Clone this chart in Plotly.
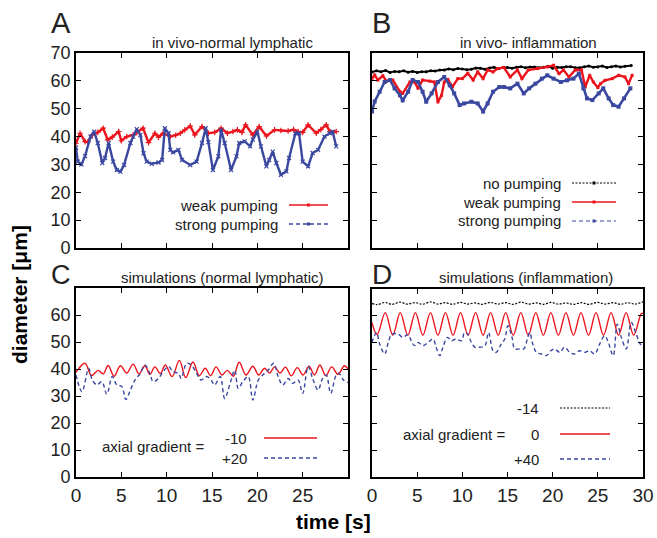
import plotly.graph_objects as go

# ---------------- data ----------------
# Panel A: in vivo, normal lymphatic
A_weak_t = [0, 0.45, 1.0, 1.3, 1.8, 2.4, 3.0, 3.5, 4.0, 4.7, 5.0, 5.6, 6.3, 6.7, 7.4, 8.0, 8.7, 9.1, 9.6,
            10.4, 11.0, 11.5, 12.0, 12.6, 13.1, 13.9, 14.6, 15.3, 16.0, 16.7, 17.3, 17.8, 18.3, 18.7, 19.5,
            20.2, 21.0, 21.9, 22.6, 23.4, 24.0, 24.5, 25.0, 25.6, 26.5, 27.0, 27.6, 28.0, 28.7]
A_weak_d = [37.6, 41.2, 38.2, 38.0, 40.6, 41.5, 43.0, 38.8, 39.8, 41.8, 38.5, 40.0, 40.6, 41.4, 43.0, 37.8,
            41.2, 39.8, 41.2, 40.0, 40.5, 41.2, 42.4, 43.8, 40.6, 43.6, 41.2, 41.5, 43.0, 41.2, 41.8, 42.4,
            41.5, 44.2, 40.6, 43.6, 40.2, 42.4, 42.2, 42.0, 42.5, 41.8, 41.5, 44.2, 41.2, 42.5, 44.2, 41.8, 41.8]
A_strong_t = [0, 0.2, 0.6, 1.0, 1.6, 2.0, 2.4, 2.9, 3.2, 3.6, 4.1, 4.5, 4.9, 5.3, 6.0, 6.3, 6.7, 7.1, 7.45,
              7.8, 8.35, 9.1, 9.5, 9.8, 10.2, 10.4, 10.7, 11.3, 11.7, 12.6, 13.3, 13.9, 14.3, 14.6, 15.1,
              15.7, 16.0, 16.4, 17.1, 17.7, 18.0, 18.6, 19.2, 19.5, 20.0, 20.4, 21.0, 21.3, 21.7, 22.1,
              22.6, 23.2, 23.5, 24.2, 24.6, 25.0, 25.6, 26.1, 26.7, 27.4, 28.0, 28.3, 28.7]
A_strong_d = [36.0, 31.0, 30.0, 33.0, 40.0, 41.8, 37.7, 30.5, 32.3, 37.7, 31.0, 28.0, 27.4, 29.8, 37.7,
              40.0, 42.7, 40.6, 34.0, 31.0, 30.2, 30.7, 31.6, 43.0, 41.2, 35.2, 34.3, 35.2, 31.6, 29.8,
              31.0, 37.7, 43.0, 38.0, 28.0, 32.9, 42.4, 37.7, 28.0, 32.9, 37.7, 38.3, 36.5, 38.9, 41.8,
              36.5, 29.3, 31.6, 34.6, 30.5, 26.3, 27.5, 32.3, 41.2, 41.2, 31.0, 29.3, 34.1, 35.2, 40.0,
              41.2, 41.8, 36.5]

# Panel B: in vivo, inflammation
B_none_t = [0, 0.5, 1, 1.5, 2, 2.5, 3, 3.5, 4, 4.5, 5, 5.5, 6, 6.5, 7, 7.5, 8, 8.5, 9, 9.5, 10, 10.5, 11,
            11.5, 12, 12.5, 13, 13.5, 14, 14.5, 15, 15.5, 16, 16.5, 17, 17.5, 18, 18.5, 19, 19.5, 20,
            20.5, 21, 21.5, 22, 22.5, 23, 23.5, 24, 24.5, 25, 25.5, 26, 26.5, 27, 27.5, 28, 28.7]
B_none_d = [63.2, 63.6, 63.3, 63.7, 63.0, 63.4, 63.3, 63.6, 63.1, 63.4, 63.0, 63.3, 63.3, 63.6, 63.5,
            63.9, 63.9, 64.3, 64.0, 64.4, 64.3, 64.0, 64.2, 64.6, 64.5, 64.2, 64.6, 64.9, 64.4, 64.8,
            64.8, 64.5, 64.9, 65.1, 64.7, 65.0, 65.0, 64.7, 64.9, 65.2, 64.5, 64.9, 64.8, 65.1, 65.1,
            64.7, 64.7, 65.1, 65.3, 64.9, 65.0, 65.3, 64.8, 65.1, 65.3, 65.0, 65.2, 65.5]
B_weak_t = [0, 0.3, 0.65, 1.2, 1.6, 2.3, 3.1, 3.4, 4.2, 4.7, 5.1, 5.6, 6.4, 6.9, 7.3, 7.7, 8.0, 8.4, 8.9,
            9.5, 10.0, 10.6, 11.2, 11.7, 12.3, 12.8, 13.4, 13.9, 14.6, 15.3, 16.1, 16.6, 17.3, 18.3,
            19.4, 20.1, 20.7, 21.2, 21.8, 22.5, 23.2, 23.6, 24.1, 24.5, 25.0, 25.3, 25.8, 26.6, 27.3,
            28.0, 28.4, 28.8]
B_weak_d = [60.9, 62.1, 60.3, 61.8, 59.9, 60.3, 56.1, 55.5, 59.6, 59.6, 57.3, 60.3, 59.9, 59.6, 52.4,
            54.8, 59.6, 60.5, 57.8, 60.8, 60.8, 62.7, 60.3, 63.2, 60.8, 63.9, 63.2, 64.4, 64.8, 61.4,
            63.9, 60.8, 63.9, 64.4, 65.0, 65.6, 62.6, 63.9, 61.4, 63.9, 63.9, 57.8, 62.0, 59.6, 57.6,
            59.0, 60.2, 60.8, 62.0, 61.4, 59.0, 62.0]
B_strong_t = [0, 0.3, 0.85, 1.4, 2.0, 2.5, 3.1, 3.4, 4.0, 4.5, 5.1, 5.6, 6.0, 6.6, 7.3, 8.0, 8.6, 9.1,
              9.7, 10.2, 11.0, 11.7, 12.3, 12.8, 13.4, 14.1, 14.6, 15.3, 16.1, 16.8, 17.4, 18.1, 18.8,
              19.4, 20.1, 20.9, 21.6, 22.3, 22.9, 23.4, 23.8, 24.4, 25.1, 25.6, 26.2, 26.7, 27.3, 27.9,
              28.6]
B_strong_d = [49.0, 52.6, 56.1, 59.6, 60.3, 57.3, 54.8, 53.0, 56.1, 60.3, 59.6, 56.1, 52.5, 55.5, 59.6,
              61.4, 58.4, 55.5, 51.3, 51.9, 52.5, 51.9, 49.0, 51.9, 56.1, 57.8, 57.8, 57.3, 59.0, 55.5,
              57.3, 59.0, 60.8, 62.0, 60.8, 59.6, 60.2, 60.8, 62.6, 57.3, 53.7, 53.1, 55.5, 57.3, 53.7,
              51.3, 50.7, 53.7, 57.3]

# Panel C: simulations, normal lymphatic
C_m10_t = [0, 1.0, 1.7, 2.45, 3.0, 3.55, 4.2, 4.9, 5.6, 6.3, 6.95, 7.6, 8.15, 8.7, 9.3, 9.85, 10.6, 11.4,
           12.1, 12.9, 13.6, 14.25, 14.85, 15.45, 16.1, 16.7, 17.35, 18.0, 18.75, 19.5, 20.15, 20.8,
           21.35, 21.9, 22.5, 23.1, 23.75, 24.4, 25.05, 25.7, 26.3, 26.9, 27.55, 28.2, 28.9, 29.6, 30.0]
C_m10_d = [38.8, 42.1, 37.6, 39.5, 38.2, 41.3, 37.3, 41.2, 38.5, 41.8, 38.2, 41.2, 38.0, 40.8, 38.3,
           41.5, 37.2, 43.2, 36.8, 42.6, 37.5, 40.3, 37.5, 40.8, 37.8, 39.5, 37.3, 42.5, 37.8, 41.0,
           37.8, 40.3, 38.5, 40.8, 38.5, 40.7, 37.5, 40.5, 37.8, 41.0, 37.8, 41.5, 37.5, 40.8, 38.0,
           41.2, 40.0]
C_p20_t = [0, 0.66, 1.4, 1.8, 2.3, 2.85, 3.4, 4.0, 4.5, 5.05, 5.5, 6.0, 6.5, 7.1, 7.6, 8.2, 8.5, 9.1,
           9.6, 10.2, 10.7, 11.3, 11.6, 12.2, 12.7, 13.3, 13.8, 14.4, 14.9, 15.3, 15.9, 16.4, 17.0,
           17.5, 17.9, 18.4, 19.0, 19.5, 20.1, 20.6, 21.2, 21.8, 22.3, 22.8, 23.4, 23.9, 24.5, 25.0,
           25.6, 26.1, 26.7, 27.2, 27.6, 28.1, 28.7, 29.0, 29.5, 30.0]
C_p20_d = [37.8, 31.6, 40.2, 35.9, 34.1, 35.3, 30.7, 37.2, 34.1, 33.5, 28.7, 32.2, 35.9, 38.4, 41.5,
           37.8, 35.3, 36.5, 39.0, 40.9, 39.0, 38.4, 36.5, 42.1, 41.5, 38.4, 35.9, 37.2, 35.9, 34.1,
           37.2, 29.1, 34.7, 39.6, 32.8, 35.3, 37.2, 28.5, 35.9, 37.8, 39.6, 42.1, 37.2, 34.1, 36.5,
           34.7, 35.9, 31.0, 40.9, 36.5, 32.2, 36.5, 37.8, 31.0, 37.8, 38.4, 35.9, 35.0]

# Panel D: simulations, inflammation
D_m14_t = [0, 0.6, 1.4, 2.2, 3.1, 3.9, 4.8, 5.6, 6.5, 7.3, 8.1, 8.9, 9.8, 10.6, 11.4, 12.2, 13.1, 13.9,
           14.8, 15.6, 16.5, 17.3, 18.2, 19.0, 19.8, 20.6, 21.5, 22.3, 23.2, 24.0, 25.0, 25.8, 26.7,
           27.5, 28.3, 29.1, 30.0]
D_m14_d = [64.6, 64.2, 65.0, 64.3, 65.1, 64.4, 64.9, 64.3, 65.2, 64.4, 64.9, 64.3, 65.0, 64.4, 64.8,
           64.3, 65.0, 64.4, 64.9, 64.3, 65.1, 64.4, 64.8, 64.3, 65.0, 64.4, 64.8, 64.3, 64.9, 64.3,
           65.0, 64.4, 64.9, 64.3, 64.9, 64.4, 65.2]
D_0_t = [0, 0.57, 1.47, 2.3, 3.13, 3.97, 4.8, 5.63, 6.47, 7.3, 8.13, 8.97, 9.8, 10.63, 11.47, 12.3,
         13.13, 13.97, 14.8, 15.63, 16.47, 17.3, 18.13, 18.97, 19.8, 20.63, 21.47, 22.3, 23.13, 23.97,
         24.8, 25.63, 26.47, 27.3, 28.13, 28.97, 29.8, 30.0]
D_0_d = [57.5, 53.0, 61.2, 52.8, 61.2, 52.8, 61.2, 52.8, 61.2, 52.8, 61.2, 52.8, 61.2, 52.8, 61.2, 52.8,
         61.2, 52.8, 61.2, 52.8, 61.2, 52.8, 61.2, 52.8, 61.2, 52.8, 61.2, 52.8, 61.2, 52.8, 61.2,
         52.8, 61.2, 52.8, 61.2, 52.8, 60.8, 61.0]
D_p40_t = [0, 0.5, 0.85, 1.4, 1.85, 2.2, 2.9, 3.4, 4.0, 4.35, 4.7, 5.1, 5.65, 6.2, 6.75, 7.1, 7.5, 7.85,
           8.35, 8.8, 9.3, 9.9, 10.25, 10.6, 11.0, 11.4, 11.9, 12.5, 12.9, 13.4, 13.75, 14.3, 14.7,
           15.05, 15.5, 15.8, 16.35, 16.8, 17.2, 17.45, 17.8, 18.2, 18.75, 19.3, 19.8, 20.2, 20.8,
           21.3, 21.9, 22.4, 23.0, 23.5, 24.1, 24.65, 25.2, 25.75, 26.1, 26.7, 27.15, 27.6, 28.15,
           28.7, 29.25, 29.7, 30.0]
D_p40_d = [50.1, 53.8, 49.5, 45.8, 50.7, 53.2, 53.2, 52.0, 53.0, 50.7, 48.9, 50.1, 48.9, 50.1, 51.4,
           48.3, 45.2, 48.3, 52.0, 50.7, 51.4, 50.7, 53.8, 53.2, 50.1, 48.3, 48.3, 48.9, 53.8, 47.0,
           46.4, 49.5, 51.4, 56.3, 52.0, 47.7, 47.7, 47.7, 51.4, 53.8, 49.5, 46.4, 45.8, 45.2, 47.0,
           47.7, 46.4, 48.3, 46.4, 45.8, 47.0, 46.4, 47.0, 45.8, 49.5, 52.6, 50.7, 45.2, 56.9, 52.0,
           47.7, 57.5, 53.2, 49.5, 49.0]

x_ticks = [0, 5, 10, 15, 20, 25, 30]
y_ticks = [0, 10, 20, 30, 40, 50, 60, 70]

# ---------------- styling ----------------
W, H = 657, 538
RED = "rgb(235,20,28)"
BLUE = "rgb(58,72,160)"
BLACK = "black"
FONT = "Liberation Sans"


def px(x):
    return x / W


def py(y):
    return 1 - y / H


fig = go.Figure()

panels = {
    "A": ("x", "y", (76, 348), (53, 248)),
    "B": ("x2", "y2", (372, 643), (53, 248)),
    "C": ("x3", "y3", (76, 348), (288, 477)),
    "D": ("x4", "y4", (372, 643), (289, 477)),
}

# in vivo traces
fig.add_trace(go.Scatter(x=A_weak_t, y=A_weak_d, xaxis="x", yaxis="y", mode="lines+markers",
                         line=dict(color=RED, width=2.4),
                         marker=dict(symbol="cross-thin", size=4, line=dict(color=RED, width=1.2))))
fig.add_trace(go.Scatter(x=A_strong_t, y=A_strong_d, xaxis="x", yaxis="y", mode="lines+markers",
                         line=dict(color=BLUE, width=2.4),
                         marker=dict(symbol="x-thin", size=4, line=dict(color=BLUE, width=1.2))))
fig.add_trace(go.Scatter(x=B_none_t, y=B_none_d, xaxis="x2", yaxis="y2", mode="lines+markers",
                         line=dict(color=BLACK, width=2.0),
                         marker=dict(symbol="circle", size=3, color=BLACK)))
fig.add_trace(go.Scatter(x=B_weak_t, y=B_weak_d, xaxis="x2", yaxis="y2", mode="lines+markers",
                         line=dict(color=RED, width=2.4),
                         marker=dict(symbol="square", size=3, color=RED)))
fig.add_trace(go.Scatter(x=B_strong_t, y=B_strong_d, xaxis="x2", yaxis="y2", mode="lines+markers",
                         line=dict(color=BLUE, width=2.6),
                         marker=dict(symbol="square", size=4, color=BLUE)))

# simulation traces
fig.add_trace(go.Scatter(x=C_m10_t, y=C_m10_d, xaxis="x3", yaxis="y3", mode="lines",
                         line=dict(color=RED, width=1.4, shape="spline", smoothing=1.0)))
fig.add_trace(go.Scatter(x=C_p20_t, y=C_p20_d, xaxis="x3", yaxis="y3", mode="lines",
                         line=dict(color=BLUE, width=1.4, dash="4px,3px", shape="spline", smoothing=1.0)))
fig.add_trace(go.Scatter(x=D_m14_t, y=D_m14_d, xaxis="x4", yaxis="y4", mode="lines",
                         line=dict(color=BLACK, width=1.2, dash="2px,1.5px", shape="spline", smoothing=1.0)))
fig.add_trace(go.Scatter(x=D_0_t, y=D_0_d, xaxis="x4", yaxis="y4", mode="lines",
                         line=dict(color=RED, width=1.4, shape="spline", smoothing=1.0)))
fig.add_trace(go.Scatter(x=D_p40_t, y=D_p40_d, xaxis="x4", yaxis="y4", mode="lines",
                         line=dict(color=BLUE, width=1.4, dash="4px,3px", shape="spline", smoothing=1.0)))

layout = dict(
    width=W, height=H, showlegend=False,
    margin=dict(l=0, r=0, t=0, b=0, autoexpand=False),
    paper_bgcolor="white", plot_bgcolor="white",
    font=dict(family=FONT, color="#222"),
)

for name, (xa, ya, (x0, x1), (y0, y1)) in panels.items():
    xkey = "xaxis" + xa[1:]
    ykey = "yaxis" + ya[1:]
    show_xlab = name in ("C", "D")
    show_ylab = name in ("A", "C")
    if name == "C":
        xtext = [str(v) if v != 30 else "" for v in x_ticks]
        ytext = [str(v) if v != 70 else "" for v in y_ticks]
    else:
        xtext = [str(v) for v in x_ticks]
        ytext = [str(v) for v in y_ticks]
    common = dict(showgrid=False, zeroline=False, showline=True, linecolor="black", linewidth=1.6,
                  mirror="ticks", ticks="inside", ticklen=5, tickwidth=1, tickcolor="black",
                  automargin=False)
    layout[xkey] = dict(domain=[px(x0), px(x1)], range=[0, 30], anchor=ya,
                        tickvals=x_ticks, ticktext=xtext, showticklabels=show_xlab,
                        tickfont=dict(size=19, family=FONT, color="#222"), **common)
    layout[ykey] = dict(domain=[py(y1), py(y0)], range=[0, 70], anchor=xa,
                        tickvals=y_ticks, ticktext=ytext, showticklabels=show_ylab,
                        tickfont=dict(size=18, family=FONT, color="#222"), **common)

fig.update_layout(**layout)

ann = []
shapes = []


def text(x, y, s, size=13, xanchor="center", bold=False, angle=0, color="#222"):
    ann.append(dict(x=px(x), y=py(y), xref="paper", yref="paper", text=("<b>%s</b>" % s) if bold else s,
                    showarrow=False, xanchor=xanchor, yanchor="middle", textangle=angle,
                    font=dict(size=size, family=FONT, color=color)))


def key(x0, x1, y, color, dash="solid", width=1.4, marker=None, msize=3):
    shapes.append(dict(type="line", xref="paper", yref="paper", x0=px(x0), x1=px(x1), y0=py(y), y1=py(y),
                       line=dict(color=color, width=width, dash=dash)))
    if marker:
        xm = (x0 + x1) / 2
        shapes.append(dict(type="rect", xref="paper", yref="paper", x0=px(xm - msize / 2), x1=px(xm + msize / 2),
                           y0=py(y + msize / 2), y1=py(y - msize / 2), fillcolor=color, line=dict(width=0)))


# panel letters
text(61, 23, "A", size=29)
text(381, 23, "B", size=29)
text(61, 275, "C", size=27)
text(382, 274, "D", size=28)

# panel titles
text(232, 43, "in vivo-normal lymphatic", size=15)
text(528, 43, "in vivo- inflammation", size=15)
text(222, 277, "simulations (normal lymphatic)", size=15)
text(526, 277, "simulations (inflammation)", size=15)

# axis titles
text(19, 295, "diameter [μm]", size=21, bold=True, angle=-90, color="black")
text(333, 521, "time [s]", size=21, bold=True, color="black")

# legend A
text(280, 205, "weak pumping", size=15, xanchor="right")
text(280, 224, "strong pumping", size=15, xanchor="right")
key(289, 328, 205, RED, width=1.5, marker=True)
key(289, 328, 224, BLUE, dash="4px,3px", width=1.5, marker=True)

# legend B
text(563, 183, "no pumping", size=15, xanchor="right")
text(563, 202, "weak pumping", size=15, xanchor="right")
text(563, 221, "strong pumping", size=15, xanchor="right")
key(572, 616, 183, BLACK, dash="2px,1.5px", width=1.2, marker=True)
key(572, 616, 202, RED, width=1.5, marker=True)
key(572, 616, 221, BLUE, dash="4px,3px", width=1.2, marker=True)

# legend C
text(153, 446, "axial gradient =", size=15)
text(249, 438, "-10", size=15, xanchor="right")
text(249, 458, "+20", size=15, xanchor="right")
key(264, 317, 438, RED, width=1.4)
key(264, 317, 458, BLUE, dash="4px,3px", width=1.3)

# legend D
text(507, 434, "axial gradient =", size=15, xanchor="right")
text(541, 408, "-14", size=15, xanchor="right")
text(541, 434, "0", size=15, xanchor="right")
text(541, 459, "+40", size=15, xanchor="right")
key(560, 610, 408, BLACK, dash="2px,1.5px", width=1.2)
key(560, 610, 434, RED, width=1.4)
key(560, 610, 459, BLUE, dash="4px,3px", width=1.3)

fig.update_layout(annotations=ann, shapes=shapes)
fig.write_html("out.html", config={"displayModeBar": False},
               post_script="document.body.style.margin='0';document.body.style.overflow='hidden';")
